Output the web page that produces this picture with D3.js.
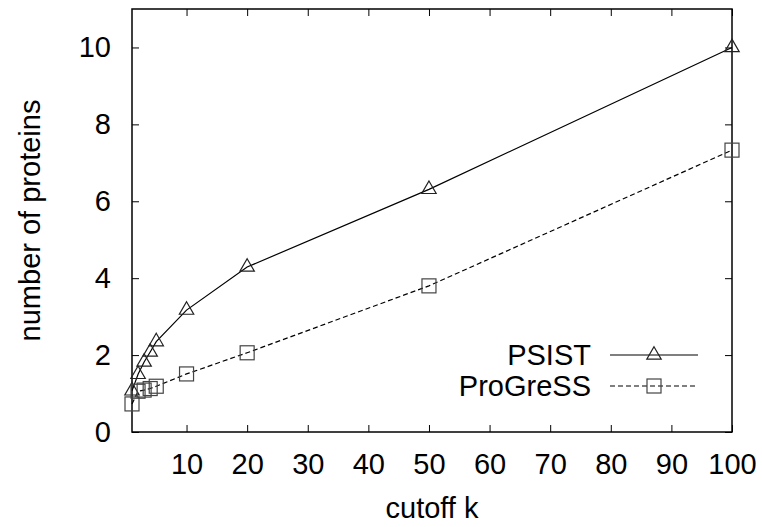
<!DOCTYPE html>
<html>
<head>
<meta charset="utf-8">
<script src="https://cdn.jsdelivr.net/npm/d3@7"></script>
<style>
  body { margin: 0; background: #fff; }
  text { font-family: "Liberation Sans", Arial, sans-serif; fill: #000; }
</style>
</head>
<body>
<div id="chart"></div>
<script>
const cutoffs = [1, 2, 3, 4, 5, 10, 20, 50, 100]
const psist = [1.07, 1.5, 1.82, 2.08, 2.35, 3.17, 4.29, 6.31, 10.0]
const progress = [0.73, 1.06, 1.09, 1.13, 1.19, 1.51, 2.06, 3.8, 7.33]
const xTicks = [10, 20, 30, 40, 50, 60, 70, 80, 90, 100]
const yTicks = [0, 2, 4, 6, 8, 10]

const width = 762, height = 527
const margin = {top: 9, right: 30, bottom: 95, left: 132}

const x = d3.scaleLinear([1, 100], [margin.left, width - margin.right])
const y = d3.scaleLinear([0, 11], [height - margin.bottom, margin.top])

const svg = d3.create("svg")
    .attr("width", width)
    .attr("height", height)
    .attr("viewBox", [0, 0, width, height])

const fontSize = 29

// mirrored inward ticks, gnuplot style
svg.append("g")
    .attr("transform", `translate(0,${y(0)})`)
    .call(d3.axisBottom(x).tickValues(xTicks).tickSizeInner(-7).tickSizeOuter(0).tickPadding(21))
    .call(g => g.select(".domain").remove())
    .call(g => g.selectAll("text").attr("font-size", fontSize).attr("font-family", null))
svg.append("g")
    .attr("transform", `translate(0,${margin.top})`)
    .call(d3.axisTop(x).tickValues(xTicks).tickSizeInner(-7).tickSizeOuter(0).tickFormat(""))
    .call(g => g.select(".domain").remove())
svg.append("g")
    .attr("transform", `translate(${margin.left},0)`)
    .call(d3.axisLeft(y).tickValues(yTicks).tickSizeInner(-7).tickSizeOuter(0).tickPadding(21))
    .call(g => g.select(".domain").remove())
    .call(g => g.selectAll("text").attr("font-size", fontSize).attr("font-family", null))
svg.append("g")
    .attr("transform", `translate(${width - margin.right},0)`)
    .call(d3.axisRight(y).tickValues(yTicks).tickSizeInner(-7).tickSizeOuter(0).tickFormat(""))
    .call(g => g.select(".domain").remove())

svg.selectAll(".tick line").attr("stroke", "#000").attr("stroke-width", 1)

svg.append("rect")
    .attr("x", margin.left)
    .attr("y", margin.top)
    .attr("width", width - margin.right - margin.left)
    .attr("height", y(0) - margin.top)
    .attr("fill", "none")
    .attr("stroke", "#000")
    .attr("stroke-width", 1.5)

const line = d3.line()
    .x((d, i) => x(cutoffs[i]))
    .y(d => y(d))

const tri = d3.symbol(d3.symbolTriangle, 90)

svg.append("path")
    .datum(psist)
    .attr("fill", "none")
    .attr("stroke", "#000")
    .attr("stroke-width", 1.2)
    .attr("d", line)
svg.append("path")
    .datum(progress)
    .attr("fill", "none")
    .attr("stroke", "#000")
    .attr("stroke-width", 1.2)
    .attr("stroke-dasharray", "5,3")
    .attr("d", line)

svg.append("g")
    .selectAll("path")
    .data(psist)
    .join("path")
      .attr("transform", (d, i) => `translate(${x(cutoffs[i])},${y(d)})`)
      .attr("d", tri)
      .attr("fill", "none")
      .attr("stroke", "#222")
      .attr("stroke-width", 1.2)

svg.append("g")
    .selectAll("rect")
    .data(progress)
    .join("rect")
      .attr("x", (d, i) => x(cutoffs[i]) - 7)
      .attr("y", d => y(d) - 7)
      .attr("width", 14)
      .attr("height", 14)
      .attr("fill", "none")
      .attr("stroke", "#444")
      .attr("stroke-width", 1.2)

// legend
const legend = [
  {name: "PSIST", dash: null, mark: "tri"},
  {name: "ProGreSS", dash: "5,3", mark: "sq"}
]
const lg = svg.append("g")
legend.forEach((s, i) => {
  const ly = 355 + i * 31
  lg.append("text")
      .attr("x", 591)
      .attr("y", ly)
      .attr("dy", "0.35em")
      .attr("text-anchor", "end")
      .attr("font-size", fontSize)
      .text(s.name)
  lg.append("line")
      .attr("x1", 610).attr("x2", 698)
      .attr("y1", ly).attr("y2", ly)
      .attr("stroke", "#000")
      .attr("stroke-width", 1.2)
      .attr("stroke-dasharray", s.dash)
  if (s.mark === "tri") {
    lg.append("path")
        .attr("transform", `translate(654,${ly})`)
        .attr("d", tri)
        .attr("fill", "none")
        .attr("stroke", "#222")
        .attr("stroke-width", 1.2)
  } else {
    lg.append("rect")
        .attr("x", 647).attr("y", ly - 7)
        .attr("width", 14).attr("height", 14)
        .attr("fill", "none")
        .attr("stroke", "#444")
        .attr("stroke-width", 1.2)
  }
})

svg.append("text")
    .attr("x", (margin.left + width - margin.right) / 2)
    .attr("y", 518)
    .attr("text-anchor", "middle")
    .attr("font-size", fontSize)
    .text("cutoff k")

svg.append("text")
    .attr("transform", `translate(40,${(margin.top + y(0)) / 2}) rotate(-90)`)
    .attr("text-anchor", "middle")
    .attr("font-size", fontSize)
    .text("number of proteins")

d3.select("#chart").node().appendChild(svg.node())
</script>
</body>
</html>
